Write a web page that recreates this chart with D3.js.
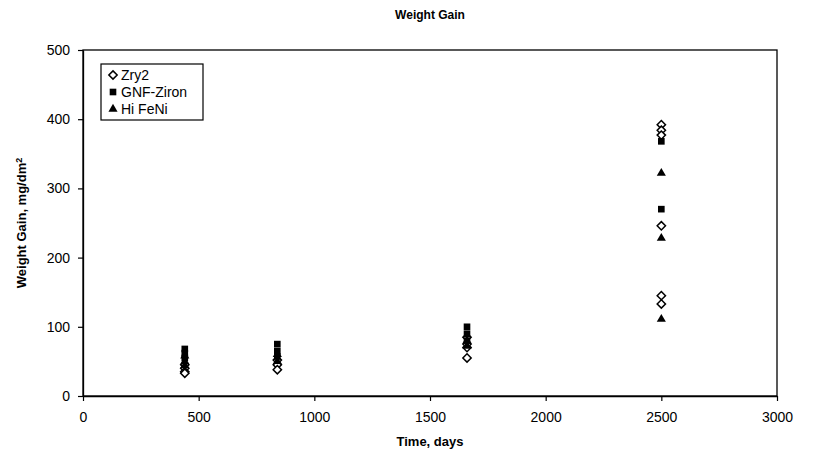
<!DOCTYPE html>
<html>
<head>
<meta charset="utf-8">
<script src="https://cdn.jsdelivr.net/npm/d3@7"></script>
<style>
  body { margin: 0; background: #fff; }
  svg { font-family: "Liberation Sans", Arial, sans-serif; }
</style>
</head>
<body>
<div id="chart"></div>
<script>
// series data (days, mg/dm2)
const zry2Days = [440, 440, 440, 440, 840, 840, 840, 1660, 1660, 1660, 1660, 2500, 2500, 2500, 2500, 2500, 2500];
const zry2Gain = [45, 40, 35, 33, 52, 45, 38, 85, 75, 70, 55, 392, 384, 377, 246, 145, 133];
const gnfDays = [440, 440, 440, 840, 840, 840, 1660, 1660, 1660, 2500, 2500];
const gnfGain = [68, 62, 55, 75, 65, 57, 100, 90, 80, 368, 270];
const feniDays = [440, 440, 440, 840, 840, 1660, 1660, 2500, 2500, 2500];
const feniGain = [58, 50, 44, 60, 50, 80, 72, 322, 228, 111];
const seriesNames = ["Zry2", "GNF-Ziron", "Hi FeNi"];
const xTicks = [0, 500, 1000, 1500, 2000, 2500, 3000];
const yTicks = [0, 100, 200, 300, 400, 500];

function drawChart() {
    const margin = { top: 50, right: 44, bottom: 60, left: 83 };
    const width = 821 - margin.left - margin.right;
    const height = 456 - margin.top - margin.bottom;

    const root = d3.select("#chart")
        .append("svg")
        .attr("width", 821)
        .attr("height", 456);

    const svg = root.append("g")
        .attr("transform", `translate(${margin.left},${margin.top})`);

    const xScale = d3.scaleLinear().domain([0, 3000]).range([0, width]);
    const yScale = d3.scaleLinear().domain([0, 500]).range([height, 0]);

    // plot border
    svg.append("rect")
        .attr("width", width)
        .attr("height", height)
        .attr("fill", "none")
        .attr("stroke", "#000")
        .attr("stroke-width", 1.3);

    const xAxis = d3.axisBottom(xScale).tickValues(xTicks).tickSize(5).tickSizeOuter(0).tickFormat(d3.format("d"));
    const yAxis = d3.axisLeft(yScale).tickValues(yTicks).tickSize(5).tickSizeOuter(0);

    const gx = svg.append("g")
        .attr("transform", `translate(0,${height})`)
        .call(xAxis);
    gx.selectAll("text").style("font-size", "14px").attr("dy", "1.25em");

    const gy = svg.append("g").call(yAxis);
    gy.selectAll("text").style("font-size", "14px").attr("dx", "-0.35em");

    svg.selectAll(".domain").attr("stroke", "#000").attr("stroke-width", 1.3);
    svg.selectAll(".tick line").attr("stroke-width", 1.2);

    // title and labels
    root.append("text")
        .attr("x", 430).attr("y", 19)
        .attr("text-anchor", "middle")
        .style("font-weight", "bold").style("font-size", "12px")
        .text("Weight Gain");

    root.append("text")
        .attr("x", 430).attr("y", 446)
        .attr("text-anchor", "middle")
        .style("font-weight", "bold").style("font-size", "13px")
        .text("Time, days");

    const ylab = root.append("text")
        .attr("transform", `translate(26,${margin.top + height / 2}) rotate(-90)`)
        .attr("text-anchor", "middle")
        .style("font-weight", "bold").style("font-size", "13px");
    ylab.append("tspan").text("Weight Gain, mg/dm");
    ylab.append("tspan").attr("dy", "-0.5em").style("font-size", "9px").text("2");

    const diamond = d3.symbol().type(d3.symbolDiamond2).size(44);
    const square = d3.symbol().type(d3.symbolSquare).size(44);
    const triangle = d3.symbol().type(d3.symbolTriangle).size(36);

    // Zry2 - open diamonds
    svg.selectAll(".zry2")
        .data(zry2Days.map((d, i) => [d, zry2Gain[i]]))
        .enter().append("path")
        .attr("d", diamond)
        .attr("transform", d => `translate(${xScale(d[0])},${yScale(d[1])})`)
        .attr("fill", "#fff").attr("stroke", "#000").attr("stroke-width", 1.5);

    // GNF-Ziron - filled squares
    svg.selectAll(".gnf")
        .data(gnfDays.map((d, i) => [d, gnfGain[i]]))
        .enter().append("path")
        .attr("d", square)
        .attr("transform", d => `translate(${xScale(d[0])},${yScale(d[1])})`)
        .attr("fill", "#000");

    // Hi FeNi - filled triangles
    svg.selectAll(".feni")
        .data(feniDays.map((d, i) => [d, feniGain[i]]))
        .enter().append("path")
        .attr("d", triangle)
        .attr("transform", d => `translate(${xScale(d[0])},${yScale(d[1])})`)
        .attr("fill", "#000");

    // legend
    const legend = root.append("g").attr("transform", "translate(101,64)");
    legend.append("rect")
        .attr("width", 102).attr("height", 56)
        .attr("fill", "#fff").attr("stroke", "#000").attr("stroke-width", 1.2);
    const shapes = [diamond, square, triangle];
    seriesNames.forEach((name, i) => {
        const yy = 11 + i * 17;
        legend.append("path")
            .attr("d", shapes[i])
            .attr("transform", `translate(12,${yy})`)
            .attr("fill", i === 0 ? "#fff" : "#000")
            .attr("stroke", i === 0 ? "#000" : "none")
            .attr("stroke-width", 1.5);
        legend.append("text")
            .attr("x", 20).attr("y", yy + 5)
            .style("font-size", "14px")
            .text(name);
    });
}

drawChart();
</script>
</body>
</html>
